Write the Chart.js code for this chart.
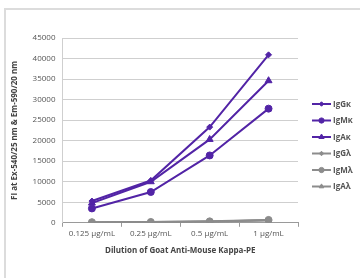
<!DOCTYPE html>
<html>
<head>
<meta charset="utf-8">
<script src="https://cdn.jsdelivr.net/npm/chart.js@4/dist/chart.umd.min.js"></script>
<style>
  html, body { margin: 0; padding: 0; background: #fff; }
  #wrap { position: relative; width: 360px; height: 278px; }
  #frame { position: absolute; left: 4px; top: 8px; right: 0; bottom: 0;
           border-top: 2px solid #dcdcdc; border-left: 2px solid #dcdcdc; }
  canvas { position: absolute; left: 0; top: 0; }
</style>
</head>
<body>
<div id="wrap">
  <div id="frame"></div>
  <canvas id="chart" width="360" height="278"></canvas>
</div>
<script>
const categories = ["0.125 µg/mL", "0.25 µg/mL", "0.5 µg/mL", "1 µg/mL"];
const yTicks = [0, 5000, 10000, 15000, 20000, 25000, 30000, 35000, 40000, 45000];

const seriesNames = ["IgGκ", "IgMκ", "IgAκ", "IgGλ", "IgMλ", "IgAλ"];
const igGk = [5300, 10300, 23300, 40900];
const igMk = [3500, 7500, 16400, 27800];
const igAk = [4800, 10000, 20300, 34600];
const igGl = [120, 180, 300, 650];
const igMl = [150, 200, 350, 700];
const igAl = [100, 150, 280, 600];

const purple = "#5224a6";
const grey = "#8c8c8c";

function ds(label, data, color, style, radius) {
  return {
    label: label,
    data: data,
    borderColor: color,
    backgroundColor: color,
    pointStyle: style,
    pointRadius: radius,
    pointBorderWidth: 1,
    borderWidth: 2,
    tension: 0
  };
}

// grey series first so the purple ones sit on top
const datasets = [
  ds(seriesNames[3], igGl, grey, "rectRot", 3),
  ds(seriesNames[4], igMl, grey, "circle", 3.5),
  ds(seriesNames[5], igAl, grey, "triangle", 3.5),
  ds(seriesNames[0], igGk, purple, "rectRot", 3),
  ds(seriesNames[1], igMk, purple, "circle", 3.5),
  ds(seriesNames[2], igAk, purple, "triangle", 4)
];

const legendOrder = [3, 4, 5, 0, 1, 2];

const sideLegend = {
  id: "sideLegend",
  afterDraw(chart) {
    const ctx = chart.ctx;
    ctx.save();
    legendOrder.forEach((idx, i) => {
      const d = chart.data.datasets[idx];
      const y = 104 + i * 16.5;
      const x0 = 312, x1 = 331;
      ctx.strokeStyle = d.borderColor;
      ctx.fillStyle = d.borderColor;
      ctx.lineWidth = 2;
      ctx.beginPath();
      ctx.moveTo(x0, y);
      ctx.lineTo(x1, y);
      ctx.stroke();
      ctx.lineWidth = 1;
      Chart.helpers.drawPoint(ctx, {
        pointStyle: d.pointStyle,
        radius: d.pointRadius * 0.75,
        borderWidth: 1
      }, (x0 + x1) / 2, y);
      ctx.fillStyle = "#555";
      ctx.font = "bold 8px 'Open Sans'";
      ctx.textBaseline = "middle";
      ctx.textAlign = "left";
      ctx.fillText(d.label, 333, y + 0.5);
    });
    ctx.restore();
  }
};

new Chart(document.getElementById("chart"), {
  type: "line",
  data: { labels: categories, datasets: datasets },
  plugins: [sideLegend],
  options: {
    responsive: false,
    animation: false,
    layout: { padding: { left: 10, right: 62, top: 38, bottom: 22 } },
    plugins: {
      legend: { display: false },
      tooltip: { enabled: false }
    },
    scales: {
      x: {
        offset: true,
        grid: {
          offset: true,
          drawOnChartArea: false,
          drawTicks: true,
          tickLength: 4,
          color: "#9a9a9a"
        },
        border: { color: "#9a9a9a", width: 1 },
        ticks: {
          color: "#555",
          font: { family: "Open Sans", size: 8 },
          padding: 2,
          maxRotation: 0
        },
        title: {
          display: true,
          text: "Dilution of Goat Anti-Mouse Kappa-PE",
          color: "#444",
          font: { family: "Open Sans", size: 8, weight: "bold" },
          padding: { top: 6, bottom: 0 }
        }
      },
      y: {
        min: 0,
        max: 45000,
        afterBuildTicks(axis) {
          axis.ticks = yTicks.map(v => ({ value: v }));
        },
        grid: { color: "#cfcfcf", drawTicks: false, lineWidth: 1 },
        border: { color: "#cfcfcf", width: 1 },
        ticks: {
          color: "#555",
          font: { family: "Open Sans", size: 8 },
          padding: 7,
          callback: v => String(v)
        },
        title: {
          display: true,
          text: "FI at Ex-540/25 nm & Em-590/20 nm",
          color: "#444",
          font: { family: "Open Sans", size: 8, weight: "bold" },
          padding: { top: 0, bottom: 6 }
        }
      }
    }
  }
});
</script>
</body>
</html>
